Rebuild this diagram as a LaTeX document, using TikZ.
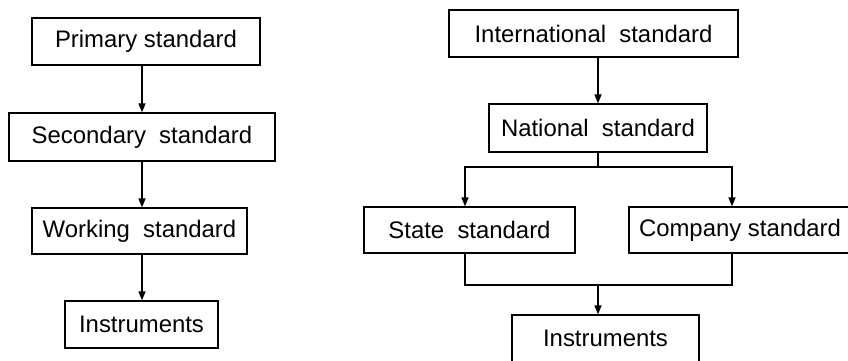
\documentclass[tikz,border=0pt]{standalone}
\usepackage{fontspec}
\setmainfont{Liberation Sans}
\usetikzlibrary{arrows.meta}
\pgfdeclarelayer{nodelayer}
\pgfdeclarelayer{edgelayer}
\pgfsetlayers{edgelayer,nodelayer,main}
\tikzstyle{std box}=[fill=white, draw=black, shape=rectangle, line width=1.3pt, inner sep=0pt, font=\fontsize{23.9}{28}\selectfont]
\tikzstyle{plain edge}=[draw=black, line width=1.5pt]
\tikzstyle{arrow edge}=[draw=black, line width=1.5pt, -{Triangle[length=9pt, width=7pt]}]

\begin{document}
\begin{tikzpicture}[x=1pt, y=-1pt]
	\useasboundingbox (0, 0) rectangle (848, 360);
	\begin{pgfonlayer}{nodelayer}
		\node [style=std box, minimum width=228, minimum height=47] (0) at (146, 41.5) {Primary standard};
		\node [style=std box, minimum width=266, minimum height=48] (1) at (142, 137) {Secondary\ \ standard};
		\node [style=std box, minimum width=215, minimum height=46] (2) at (139.5, 231) {Working\ \ standard};
		\node [style=std box, minimum width=153, minimum height=47] (3) at (141.5, 324.5) {Instruments};
		\node [style=std box, minimum width=289, minimum height=47] (4) at (593.5, 33.5) {International\ \ standard};
		\node [style=std box, minimum width=218, minimum height=48] (5) at (598, 128) {National\ \ standard};
		\node [style=std box, minimum width=211, minimum height=46] (6) at (469.5, 230) {State\ \ standard};
		\node [style=std box, minimum width=222, minimum height=46] (7) at (740, 230) {Company standard};
		\node [style=std box, minimum width=187, minimum height=47] (8) at (605.5, 338.5) {Instruments};
		\coordinate (9) at (598, 167);
		\coordinate (10) at (598, 285);
	\end{pgfonlayer}
	\begin{pgfonlayer}{edgelayer}
		\draw [style=arrow edge] (0.south -| 1.north) to (1.north);
		\draw [style=arrow edge] (1.south) to (1.south |- 2.north);
		\draw [style=arrow edge] (2.south -| 1.south) to (1.south |- 3.north);
		\draw [style=arrow edge] (4.south -| 5.north) to (5.north);
		\draw [style=plain edge] (5.south) to (9);
		\draw [style=arrow edge] (9) -| ([xshift=-4.5pt]6.north);
		\draw [style=arrow edge] (9) -| ([xshift=-8pt]7.north);
		\draw [style=plain edge] ([xshift=-4.5pt]6.south) |- (10) -| ([xshift=-8pt]7.south);
		\draw [style=arrow edge] (10) to (10 |- 8.north);
	\end{pgfonlayer}
\end{tikzpicture}
\end{document}
